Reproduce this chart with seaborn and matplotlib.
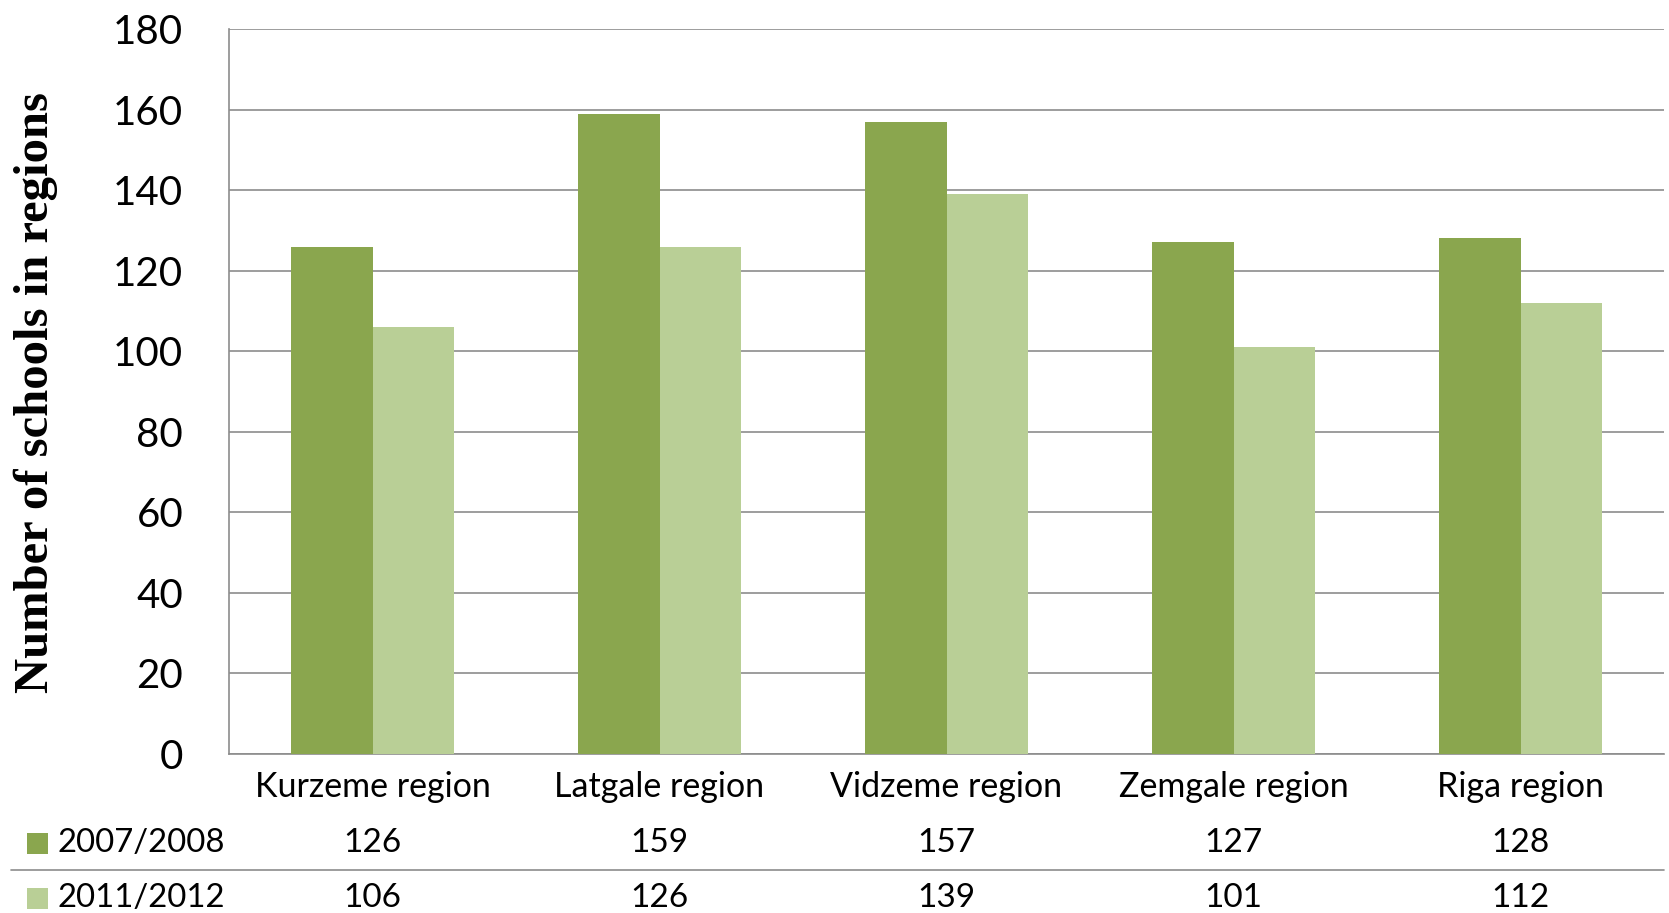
import matplotlib
matplotlib.use("Agg")
import matplotlib.pyplot as plt
import matplotlib.transforms as mtransforms
from matplotlib.patches import Rectangle
from matplotlib.lines import Line2D
import pandas as pd
import seaborn as sns

regions = ["Kurzeme region", "Latgale region", "Vidzeme region", "Zemgale region", "Riga region"]
years = ["2007/2008", "2011/2012"]
schools_2007 = [126, 159, 157, 127, 128]
schools_2011 = [106, 126, 139, 101, 112]
y_ticks = [0, 20, 40, 60, 80, 100, 120, 140, 160, 180]
y_label = "Number of schools in regions"

colors = ["#8AA64E", "#B9CF96"]
grid_color = "#8C8C8C"
text_font = ["Lato", "DejaVu Sans"]

df = pd.DataFrame({
    "region": regions * 2,
    "year": [years[0]] * len(regions) + [years[1]] * len(regions),
    "schools": schools_2007 + schools_2011,
})

sns.set_theme(style="white")
plt.rcParams["font.family"] = text_font

W, H = 1669, 913
fig = plt.figure(figsize=(W / 100, H / 100), dpi=100)
ax = fig.add_axes([229 / W, 1 - 754 / H, (1664 - 229) / W, (754 - 29) / H])

sns.barplot(data=df, x="region", y="schools", hue="year", order=regions,
            hue_order=years, palette=colors, width=0.57, gap=0,
            linewidth=0, saturation=1, legend=False, ax=ax, zorder=3)

ax.set_ylim(0, 180)
ax.set_xlim(-0.5, len(regions) - 0.5)
ax.set_yticks(y_ticks)
ax.set_yticklabels([str(v) for v in y_ticks], fontsize=29, color="black")
ax.yaxis.grid(True, color=grid_color, linewidth=1.2, zorder=0)
ax.set_axisbelow(True)
ax.tick_params(axis="y", length=0, pad=33)
ax.tick_params(axis="x", length=0, pad=12, labelsize=24.5, labelcolor="black")
ax.set_xlabel("")
ax.set_ylabel(y_label, fontsize=35, fontweight="bold",
              family=["Liberation Serif", "DejaVu Serif"], color="black")
ax.yaxis.set_label_coords(-0.119, 0.498)

for side in ["top", "right"]:
    ax.spines[side].set_visible(False)
for side in ["left", "bottom"]:
    ax.spines[side].set_visible(True)
    ax.spines[side].set_color(grid_color)
    ax.spines[side].set_linewidth(1.2)

# data table under the axis
row_tf = mtransforms.blended_transform_factory(ax.transData, fig.transFigure)
row_y = [1 - 843 / H, 1 - 898 / H]
for vals, yy in zip([schools_2007, schools_2011], row_y):
    for i, v in enumerate(vals):
        ax.text(i, yy, str(v), transform=row_tf, ha="center", va="center",
                fontsize=24, color="black", clip_on=False)

for name, col, yy in zip(years, colors, row_y):
    fig.patches.append(Rectangle((27 / W, yy - 10.5 / H), 21 / W, 21 / H,
                                 transform=fig.transFigure, facecolor=col,
                                 edgecolor="none"))
    fig.text(57 / W, yy, name, ha="left", va="center", fontsize=23.7, color="black")

fig.lines.append(Line2D([11 / W, 1664 / W], [1 - 870 / H, 1 - 870 / H],
                        transform=fig.transFigure, color=grid_color, linewidth=1.2))

fig.savefig("out.png", dpi=100)
